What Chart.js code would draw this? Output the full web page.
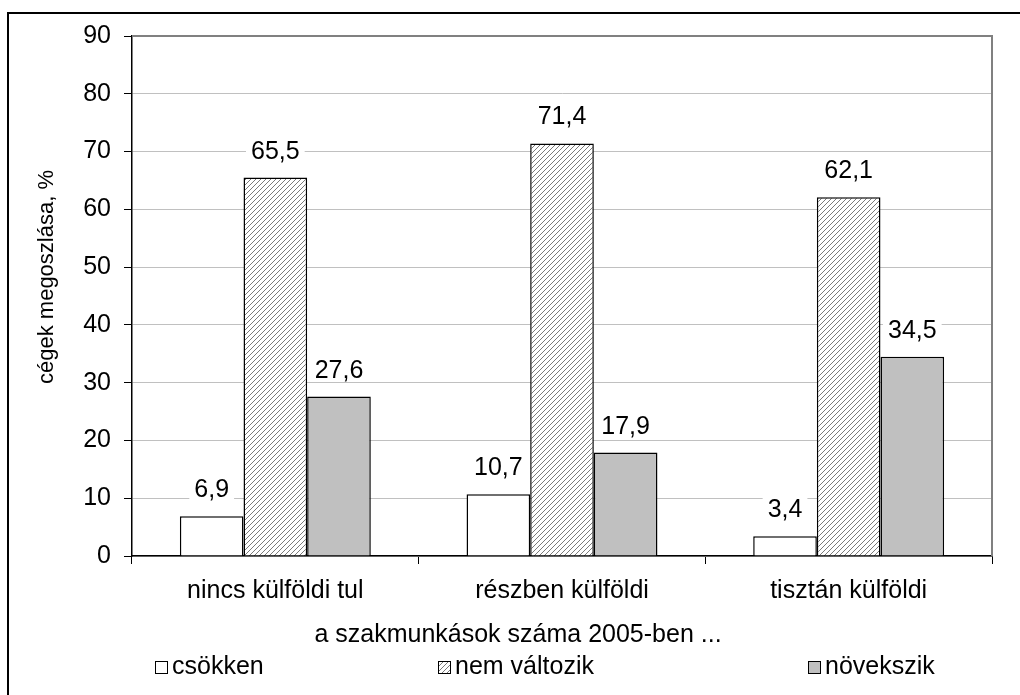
<!DOCTYPE html>
<html>
<head>
<meta charset="utf-8">
<script src="https://cdn.jsdelivr.net/npm/chart.js@4/dist/chart.umd.min.js"></script>
<style>
  html, body { margin: 0; padding: 0; background: #fff; }
  canvas { display: block; }
</style>
</head>
<body>
<canvas id="chart" width="1020" height="695"></canvas>
<script>
// chart data
const categories = ['nincs külföldi tul', 'részben külföldi', 'tisztán külföldi'];
const seriesNames = ['csökken', 'nem változik', 'növekszik'];
const csokken = [6.9, 10.7, 3.4];
const nemValtozik = [65.5, 71.4, 62.1];
const novekszik = [27.6, 17.9, 34.5];
const yMin = 0, yMax = 90, yStep = 10;
const yTitle = 'cégek megoszlása, %';
const xTitle = 'a szakmunkások száma 2005-ben ...';

const FONT = "'Liberation Sans', Arial, sans-serif";

// diagonal hatch used for the middle series
function makeHatch() {
  const c = document.createElement('canvas');
  c.width = c.height = 5;
  const g = c.getContext('2d');
  g.fillStyle = '#fff';
  g.fillRect(0, 0, 5, 5);
  g.strokeStyle = '#7a7a7a';
  g.lineWidth = 1;
  g.beginPath();
  g.moveTo(0, 5); g.lineTo(5, 0);
  g.moveTo(-1, 1); g.lineTo(1, -1);
  g.moveTo(4, 6); g.lineTo(6, 4);
  g.stroke();
  return g.createPattern(c, 'repeat');
}
const hatch = makeHatch();
const fills = ['#ffffff', hatch, '#c0c0c0'];

const fmt = v => v.toFixed(1).replace('.', ',');

// value labels above bars, with a white backing that breaks the gridlines
const valueLabels = {
  id: 'valueLabels',
  afterDatasetsDraw(chart) {
    const ctx = chart.ctx;
    ctx.save();
    ctx.font = '25px ' + FONT;
    ctx.textAlign = 'center';
    ctx.textBaseline = 'alphabetic';
    chart.data.datasets.forEach((ds, i) => {
      chart.getDatasetMeta(i).data.forEach((bar, j) => {
        const txt = fmt(ds.data[j]);
        const w = ctx.measureText(txt).width;
        const y = bar.y - 19;
        ctx.fillStyle = '#fff';
        ctx.fillRect(bar.x - w / 2 - 5, y - 20, w + 10, 24);
        ctx.fillStyle = '#000';
        ctx.fillText(txt, bar.x, y);
      });
    });
    ctx.restore();
  }
};

// frame, plot border, axis titles and legend
const decorations = {
  id: 'decorations',
  beforeDatasetsDraw(chart) {
    const { ctx, chartArea: a } = chart;
    ctx.save();
    ctx.strokeStyle = '#808080';
    ctx.lineWidth = 2;
    ctx.beginPath();
    ctx.moveTo(a.left, a.top);
    ctx.lineTo(a.right, a.top);
    ctx.lineTo(a.right, a.bottom);
    ctx.stroke();
    ctx.restore();
  },
  afterDraw(chart) {
    const { ctx } = chart;
    ctx.save();
    // outer frame
    ctx.strokeStyle = '#000';
    ctx.lineWidth = 2;
    ctx.strokeRect(8, 13, 1100, 800);

    ctx.fillStyle = '#000';
    // y title
    ctx.save();
    ctx.translate(47, 277);
    ctx.rotate(-Math.PI / 2);
    ctx.font = '22px ' + FONT;
    ctx.textAlign = 'center';
    ctx.textBaseline = 'middle';
    ctx.fillText(yTitle, 0, 0);
    ctx.restore();

    // x title
    ctx.font = '25px ' + FONT;
    ctx.textAlign = 'center';
    ctx.textBaseline = 'alphabetic';
    ctx.fillText(xTitle, 518, 642);

    // legend
    const boxX = [155, 438, 808];
    const base = 674;
    ctx.textAlign = 'left';
    chart.data.datasets.forEach((ds, i) => {
      ctx.fillStyle = ds.backgroundColor;
      ctx.fillRect(boxX[i], base - 13, 12, 12);
      ctx.strokeStyle = '#000';
      ctx.lineWidth = 1;
      ctx.strokeRect(boxX[i] + 0.5, base - 12.5, 12, 12);
      ctx.fillStyle = '#000';
      ctx.fillText(ds.label, boxX[i] + 17, base);
    });
    ctx.restore();
  }
};

new Chart(document.getElementById('chart'), {
  type: 'bar',
  data: {
    labels: categories,
    datasets: [
      { label: seriesNames[0], data: csokken, backgroundColor: fills[0] },
      { label: seriesNames[1], data: nemValtozik, backgroundColor: fills[1] },
      { label: seriesNames[2], data: novekszik, backgroundColor: fills[2] }
    ].map(d => Object.assign(d, {
      borderColor: '#000',
      borderWidth: 1.5,
      borderSkipped: 'bottom',
      categoryPercentage: 0.666,
      barPercentage: 1
    }))
  },
  options: {
    responsive: false,
    devicePixelRatio: 1,
    animation: false,
    layout: { padding: { top: 36, right: 28, bottom: 0, left: 0 } },
    plugins: {
      legend: { display: false },
      tooltip: { enabled: false }
    },
    scales: {
      x: {
        grid: {
          display: true,
          offset: true,
          drawOnChartArea: false,
          tickLength: 8,
          color: '#000'
        },
        border: { color: '#000', width: 1.5 },
        ticks: { color: '#000', font: { family: FONT, size: 25 }, padding: 12 },
        afterFit(scale) { scale.height = 139; }
      },
      y: {
        min: yMin,
        max: yMax,
        grid: { color: '#c0c0c0', tickColor: '#000', tickLength: 8 },
        border: { color: '#000', width: 1.5 },
        ticks: {
          stepSize: yStep,
          color: '#000',
          padding: 13,
          font: { family: FONT, size: 25 }
        },
        afterFit(scale) { scale.width = 132; }
      }
    }
  },
  plugins: [decorations, valueLabels]
});
</script>
</body>
</html>
